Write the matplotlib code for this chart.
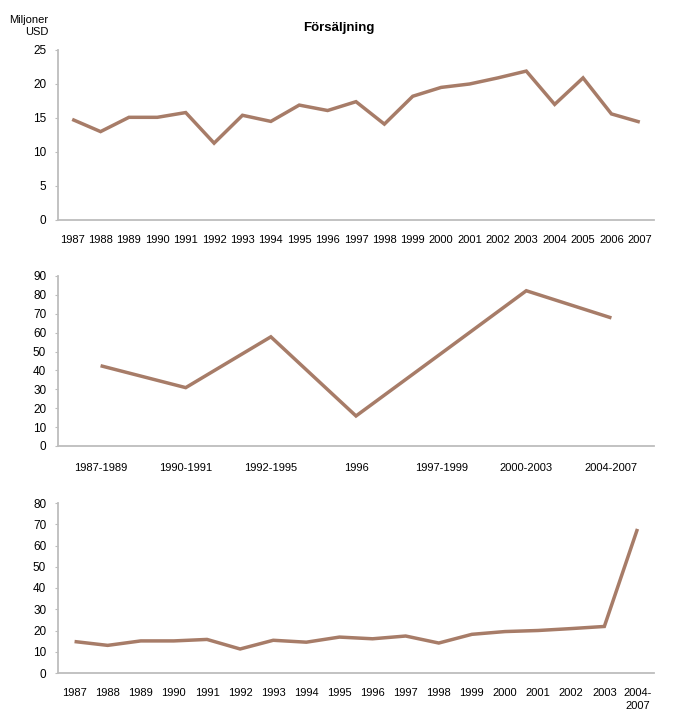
import matplotlib
matplotlib.use("Agg")
import matplotlib.pyplot as plt

plt.rcParams['font.family'] = ['Liberation Sans Narrow', 'Liberation Sans', 'DejaVu Sans']

# --- Data ---
years = ["1987", "1988", "1989", "1990", "1991", "1992", "1993", "1994", "1995", "1996",
         "1997", "1998", "1999", "2000", "2001", "2002", "2003", "2004", "2005", "2006", "2007"]
sales_yearly = [14.8, 13.0, 15.1, 15.1, 15.8, 11.3, 15.4, 14.5, 16.9, 16.1,
                17.4, 14.1, 18.2, 19.5, 20.0, 20.9, 21.9, 17.0, 20.9, 15.6, 14.4]

periods = ["1987-1989", "1990-1991", "1992-1995", "1996", "1997-1999", "2000-2003", "2004-2007"]
sales_periods = [42.5, 30.9, 57.8, 15.9, 49.0, 82.2, 67.8]

mixed_labels = ["1987", "1988", "1989", "1990", "1991", "1992", "1993", "1994", "1995",
                "1996", "1997", "1998", "1999", "2000", "2001", "2002", "2003", "2004-\n2007"]
sales_mixed = [14.8, 13.0, 15.1, 15.1, 15.8, 11.3, 15.4, 14.5, 16.9,
               16.1, 17.4, 14.1, 18.2, 19.5, 20.0, 20.9, 21.9, 67.8]

title = "Försäljning"
unit_label = "Miljoner\nUSD"

LINE = "#A77C68"
SPINE = "#BDBDBD"

fig = plt.figure(figsize=(6.77, 7.15), dpi=100)
W, H = 677, 715

def make_ax(left, right, top_px, bottom_px):
    return fig.add_axes([left / W, 1 - bottom_px / H, (right - left) / W, (bottom_px - top_px) / H])

def style(ax, labels, values, ymax, ystep, xpad=10):
    x = list(range(len(labels)))
    ax.plot(x, values, color=LINE, lw=2.5, solid_joinstyle='miter', solid_capstyle='butt')
    ax.set_xlim(-0.5, len(labels) - 0.5)
    ax.set_ylim(0, ymax)
    ax.set_yticks(range(0, ymax + 1, ystep))
    ax.set_xticks(x)
    ax.set_xticklabels(labels, fontsize=8, linespacing=1.35)
    ax.tick_params(axis='y', labelsize=8.5, length=2.5, width=0.8, color=SPINE, pad=6)
    ax.tick_params(axis='x', length=0, pad=xpad)
    for s in ['top', 'right']:
        ax.spines[s].set_visible(False)
    for s in ['left', 'bottom']:
        ax.spines[s].set_color(SPINE)
        ax.spines[s].set_linewidth(1.3)
    ax.set_facecolor('none')

ax1 = make_ax(58, 654, 50, 220)
style(ax1, years, sales_yearly, 25, 5, xpad=11)

ax2 = make_ax(58, 654, 276, 446)
style(ax2, periods, sales_periods, 90, 10, xpad=12)

ax3 = make_ax(58, 654, 503, 673)
style(ax3, mixed_labels, sales_mixed, 80, 10, xpad=11)

fig.text(339 / W, 1 - 28 / H, title, ha='center', va='center', fontsize=9.5, fontweight='bold')
fig.text(48 / W, 1 - 26 / H, unit_label, ha='right', va='center', fontsize=8, linespacing=1.15)

fig.savefig("out.png", dpi=100)
